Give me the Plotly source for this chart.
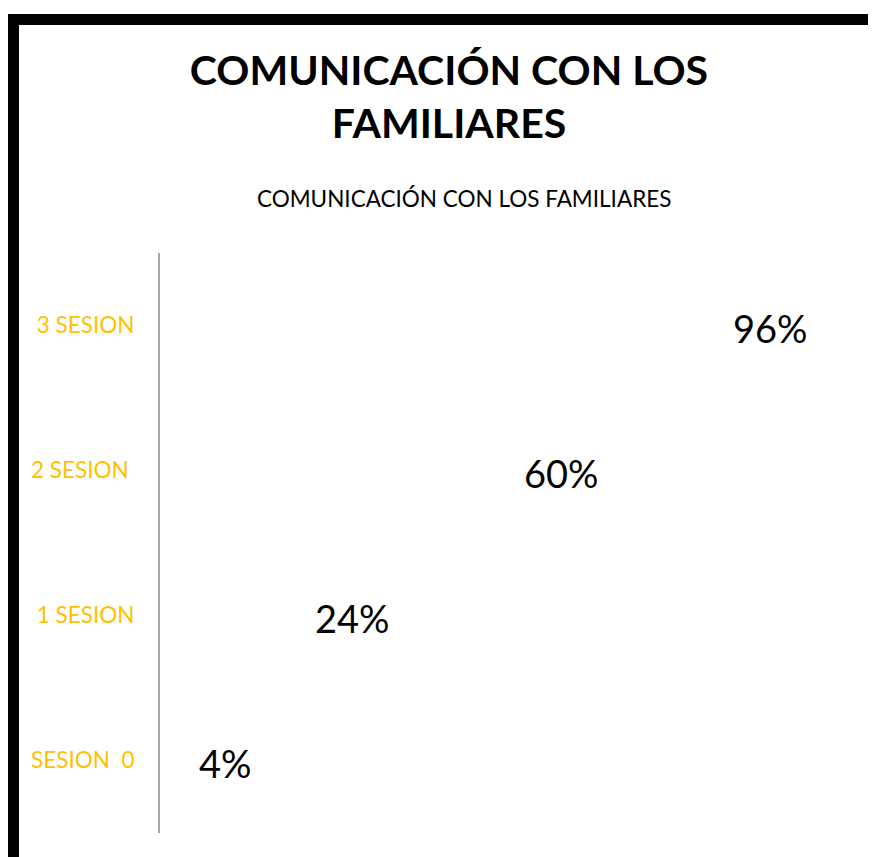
import plotly.graph_objects as go

# Données
sessions = ["SESION\u00a0 0", "1 SESION", "2 SESION\u00a0", "3 SESION"]
pourcentages = [4, 24, 60, 96]
titre = "COMUNICACIÓN CON LOS<br>FAMILIARES"
sous_titre = "COMUNICACIÓN CON LOS FAMILIARES"

FONT = "Lato, Calibri, sans-serif"
GOLD = "#FFC000"

fig = go.Figure()

# Barres invisibles (seules les étiquettes sont visibles)
fig.add_trace(go.Bar(
    x=pourcentages,
    y=sessions,
    orientation="h",
    marker=dict(color="rgba(0,0,0,0)", line=dict(width=0)),
    hoverinfo="skip",
    showlegend=False,
))

# Étiquettes de valeur à droite de chaque barre
for v, s in zip(pourcentages, sessions):
    fig.add_annotation(
        x=v, y=s, text=f"{v}%",
        xanchor="left", yanchor="middle",
        xshift=14, yshift=-2, showarrow=False,
        font=dict(size=38, color="#000000", family=FONT),
    )

fig.add_annotation(
    x=0.4368, y=1.0948, xref="paper", yref="paper",
    text=sous_titre, showarrow=False,
    xanchor="center", yanchor="middle",
    font=dict(size=22.5, color="#000000", family=FONT),
)

# Cadre noir épais (bords gauche et haut visibles)
fig.add_shape(
    type="rect", xref="paper", yref="paper",
    x0=-0.2105, x1=1.08, y0=-0.1, y1=1.4026,
    line=dict(color="#000000", width=11),
    fillcolor="rgba(0,0,0,0)",
)

fig.update_layout(
    width=876,
    height=857,
    margin=dict(l=152, r=28, t=245, b=32),
    paper_bgcolor="#FFFFFF",
    plot_bgcolor="#FFFFFF",
    font=dict(family=FONT, color="#000000"),
    title=dict(
        text=f"<b>{titre}</b>",
        x=0.5034, xanchor="center",
        y=0.9107, yanchor="middle",
        font=dict(size=41, color="#000000", family=FONT),
    ),
    xaxis=dict(
        range=[0, 120],
        visible=False,
        showgrid=False,
        zeroline=False,
    ),
    yaxis=dict(
        categoryorder="array",
        categoryarray=sessions,
        showline=True,
        linecolor="#A6A6A6",
        linewidth=2,
        showgrid=False,
        zeroline=False,
        ticks="",
        ticklabelstandoff=19,
        tickfont=dict(size=22.5, color=GOLD, family=FONT),
    ),
)

fig.write_html("out.html")
